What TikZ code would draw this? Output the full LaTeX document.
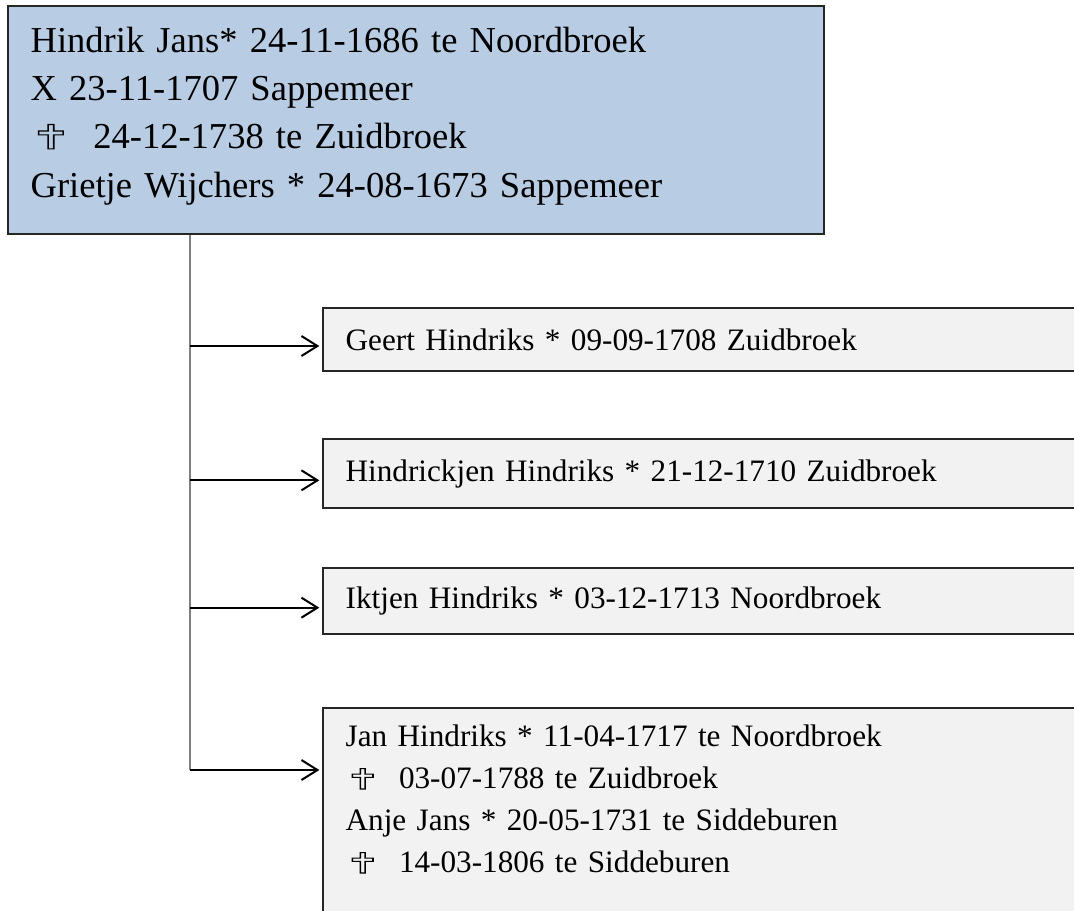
\documentclass[tikz,border=0pt]{standalone}
\usepackage{fontspec}
\usepackage{graphicx}
\setmainfont{Liberation Serif}
\newfontfamily\symfont{DejaVu Sans}
\usetikzlibrary{arrows.meta}
\definecolor{ouderblauw}{HTML}{B8CCE4}
\definecolor{kindgrijs}{HTML}{F2F2F2}
\definecolor{randgrijs}{HTML}{262626}
% open kruis: omlijnde glyph
\newcommand{\kruis}{\scalebox{1.45}[1]{\special{pdf:literal direct q 1 Tr 0.8 w}✝\special{pdf:literal direct Q}}}
\newcommand{\kruisgroot}{\makebox[47pt][l]{\symfont\fontsize{25}{25}\selectfont\kruis}}
\newcommand{\kruisklein}{\makebox[40pt][l]{\symfont\fontsize{21}{21}\selectfont\kruis}}
\begin{document}
\begin{tikzpicture}[x=0.75pt,y=-0.75pt,
    ouder/.style={draw=randgrijs, line width=1.5pt, fill=ouderblauw, anchor=north west,
      align=left, font=\fontsize{27.4}{36.2}\selectfont, inner xsep=17pt, text width=578pt,
      minimum height=171pt},
    kind/.style={draw=randgrijs, line width=1.5pt, fill=kindgrijs, anchor=north west,
      align=left, font=\fontsize{23.4}{31.5}\selectfont, inner xsep=17pt, text width=600pt},
    stamlijn/.style={draw=black!50, line width=1.2pt},
    pijl/.style={-{Straight Barb[length=12pt,width=15pt]}, line width=1.5pt, shorten >=2pt}]
  \useasboundingbox (0,0) rectangle (1074,910);
  \clip (0,0) rectangle (1074,910);
  % ouders
  \node[ouder] (ouder) at (7,5) {Hindrik Jans* 24-11-1686 te Noordbroek\\
    X 23-11-1707 Sappemeer\\
    \kruisgroot 24-12-1738 te Zuidbroek\\
    Grietje Wijchers * 24-08-1673 Sappemeer\rule[-12pt]{0pt}{0pt}};
  % kinderen
  \node[kind, minimum height=47pt] (kind1) at (322,307) {Geert Hindriks * 09-09-1708 Zuidbroek};
  \node[kind, minimum height=52pt] (kind2) at (322,438) {Hindrickjen Hindriks * 21-12-1710 Zuidbroek};
  \node[kind, minimum height=49.5pt] (kind3) at (322,567) {Iktjen Hindriks * 03-12-1713 Noordbroek};
  \node[kind, inner ysep=13pt] (kind4) at (322,707) {Jan Hindriks * 11-04-1717 te Noordbroek\\
    \kruisklein 03-07-1788 te Zuidbroek\\
    Anje Jans * 20-05-1731 te Siddeburen\\
    \kruisklein 14-03-1806 te Siddeburen\\
    ~};
  % stam en pijlen
  \coordinate (stam) at (190,0);
  \foreach \k in {1,2,3}
    \coordinate (in\k) at ([yshift=-5pt]kind\k.west);
  \coordinate (in4) at ([yshift=-47.25pt]kind4.north west);
  \draw[stamlijn] (ouder.south -| stam) -- (in4 -| stam);
  \foreach \k in {1,...,4}
    \draw[pijl] (in\k -| stam) -- (in\k);
\end{tikzpicture}
\end{document}
